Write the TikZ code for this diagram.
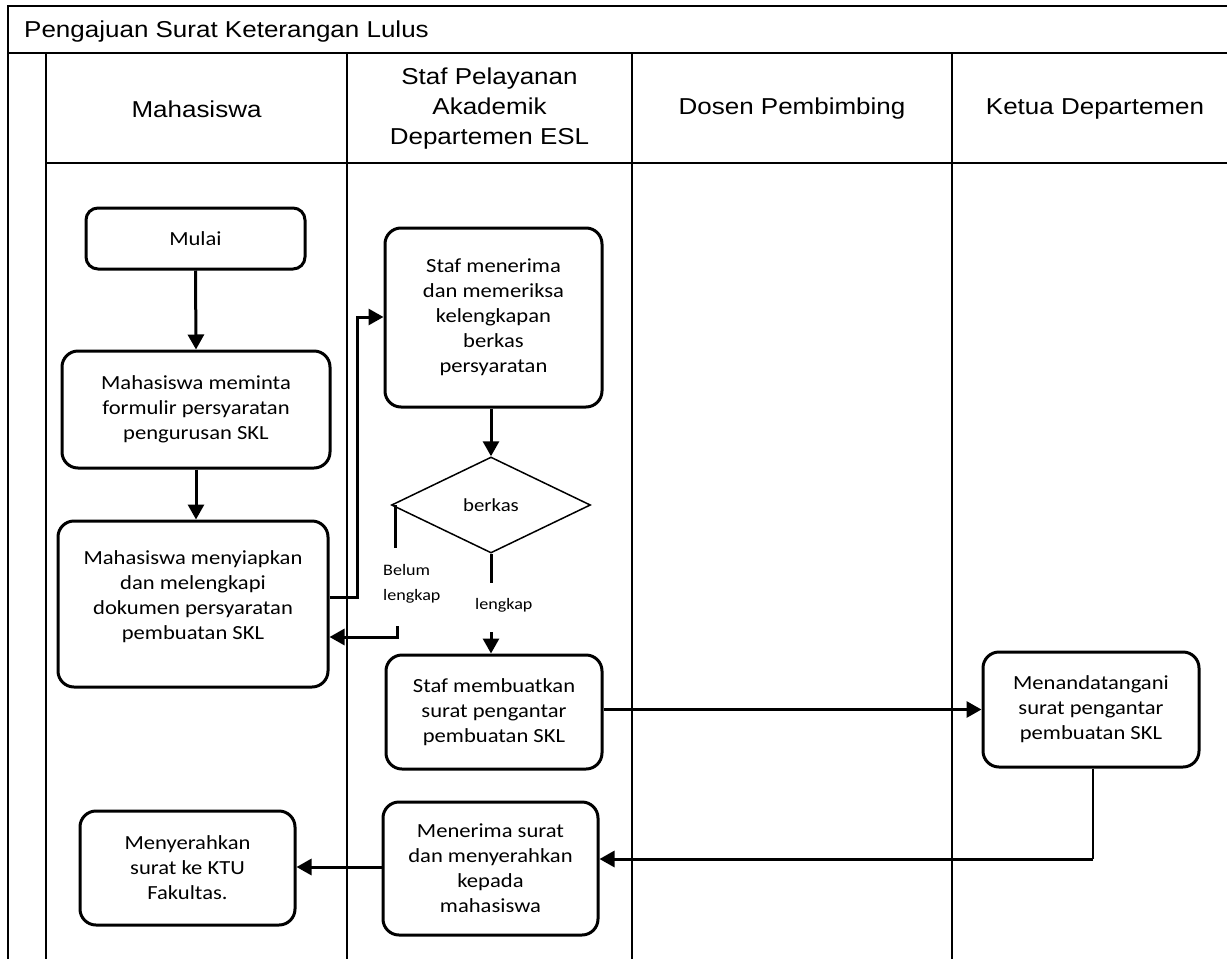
\documentclass[tikz,border=0pt]{standalone}
\usepackage{fontspec}
\usetikzlibrary{shapes.geometric,arrows.meta}
\newfontfamily\arialf[FakeStretch=1.13]{Liberation Sans}
\newfontfamily\calf[FakeStretch=1.13]{Carlito}
\newcommand\boxfont{\calf\fontsize{20}{25}\selectfont}
\begin{document}
\begin{tikzpicture}[x=1pt,y=-1pt,
  box/.style={draw, line width=3pt, rounded corners=16pt, align=center,
    font=\boxfont, inner sep=0pt},
  arr/.style={line width=3pt, -{Triangle[length=15pt,width=16pt]}},
  conn/.style={line width=3pt},
  thinconn/.style={line width=1.6pt},
  lane/.style={line width=2.8pt},
  hdr/.style={font=\arialf\fontsize{23}{30}\selectfont, align=center, inner sep=0pt},
  lbl/.style={font=\calf\fontsize{16}{25}\selectfont, align=left, inner sep=0pt}
]
\useasboundingbox (0,0) rectangle (1227,959);
\clip (0,0) rectangle (1227,959);

% frame and lanes
\draw[lane] (8,975) -- (8,6) -- (1250,6);
\draw[lane] (8,53) -- (1250,53);
\draw[lane] (46,53) -- (46,975);
\draw[lane] (46,163) -- (1250,163);
\draw[lane] (347,53) -- (347,975);
\draw[lane] (632,53) -- (632,975);
\draw[lane] (952,53) -- (952,975);

% titles
\node[hdr, anchor=base west] (title) at (24,37) {Pengajuan Surat Keterangan Lulus};
\node[hdr] (h1) at (196.5,109) {Mahasiswa};
\node[hdr] (h2) at (489.5,109) {Staf Pelayanan\\Akademik\\Departemen ESL};
\node[hdr] (h3) at (792,109) {Dosen Pembimbing};
\node[hdr] (h4) at (1095,109) {Ketua Departemen};

% boxes
\node[box, rounded corners=12pt, minimum width=219pt, minimum height=61pt] (mulai) at (195.5,238.5) {Mulai};
\node[box, minimum width=268pt, minimum height=117pt] (req) at (196,409.5)
  {Mahasiswa meminta\\formulir persyaratan\\pengurusan SKL};
\node[box, minimum width=270pt, minimum height=166pt] (prep) at (193,604)
  {Mahasiswa menyiapkan\\dan melengkapi\\dokumen persyaratan\\pembuatan SKL\\[-8pt]};
\node[box, minimum width=217pt, minimum height=179pt] (cek) at (493.5,317.5)
  {Staf menerima\\dan memeriksa\\kelengkapan\\berkas\\persyaratan};
\node[draw, diamond, line width=1.5pt, minimum width=199pt, minimum height=96pt,
  inner sep=0pt, font=\calf\fontsize{18.4}{22}\selectfont] (dia) at (491,505) {berkas};
\node[box, minimum width=216pt, minimum height=114pt] (buat) at (494,712)
  {Staf membuatkan\\surat pengantar\\pembuatan SKL};
\node[box, minimum width=216pt, minimum height=115pt] (ttd) at (1091,709.5)
  {Menandatangani\\surat pengantar\\pembuatan SKL};
\node[box, minimum width=215pt, minimum height=133pt] (terima) at (490.5,868.5)
  {Menerima surat\\dan menyerahkan\\kepada\\mahasiswa};
\node[box, minimum width=215pt, minimum height=114pt] (serah) at (187.5,868)
  {Menyerahkan\\surat ke KTU\\Fakultas.};

% labels
\node[lbl, anchor=west] (belum) at (383,584) {Belum\\lengkap};
\node[lbl, anchor=west] (lengkap) at (475,605) {lengkap};

% helper coordinates
\coordinate (j1) at (357,597);
\coordinate (j2) at (357,317);
\coordinate (b0) at (395,505);
\coordinate (b1) at (395,548);
\coordinate (b2) at (397,626);
\coordinate (b3) at (397,637);
\coordinate (l1) at (491,583);
\coordinate (l2) at (491,632);
\coordinate (k1) at (1093,859);

% connectors
\draw[arr] (mulai.south) -- (req.north);
\draw[arr] (req.south) -- (req.south |- prep.north);
\draw[arr] (prep.east |- j1) -- (j1) -- (j2) -- (cek.west |- j2);
\draw[arr] (cek.south -| dia.north) -- (dia.north);
\draw[conn] (b0) -- (b1);
\draw[arr] (b2) -- (b3) -- (prep.east |- b3);
\draw[conn] (dia.south) -- (l1);
\draw[arr] (l2) -- (buat.north -| l2);
\draw[arr] (buat.east |- ttd.west) -- (ttd.west);
\draw[thinconn] (ttd.south -| k1) -- (k1);
\draw[arr] (k1) -- (terima.east |- k1);
\draw[arr] (terima.west |- 0,867) -- (serah.east |- 0,867);
\end{tikzpicture}
\end{document}
